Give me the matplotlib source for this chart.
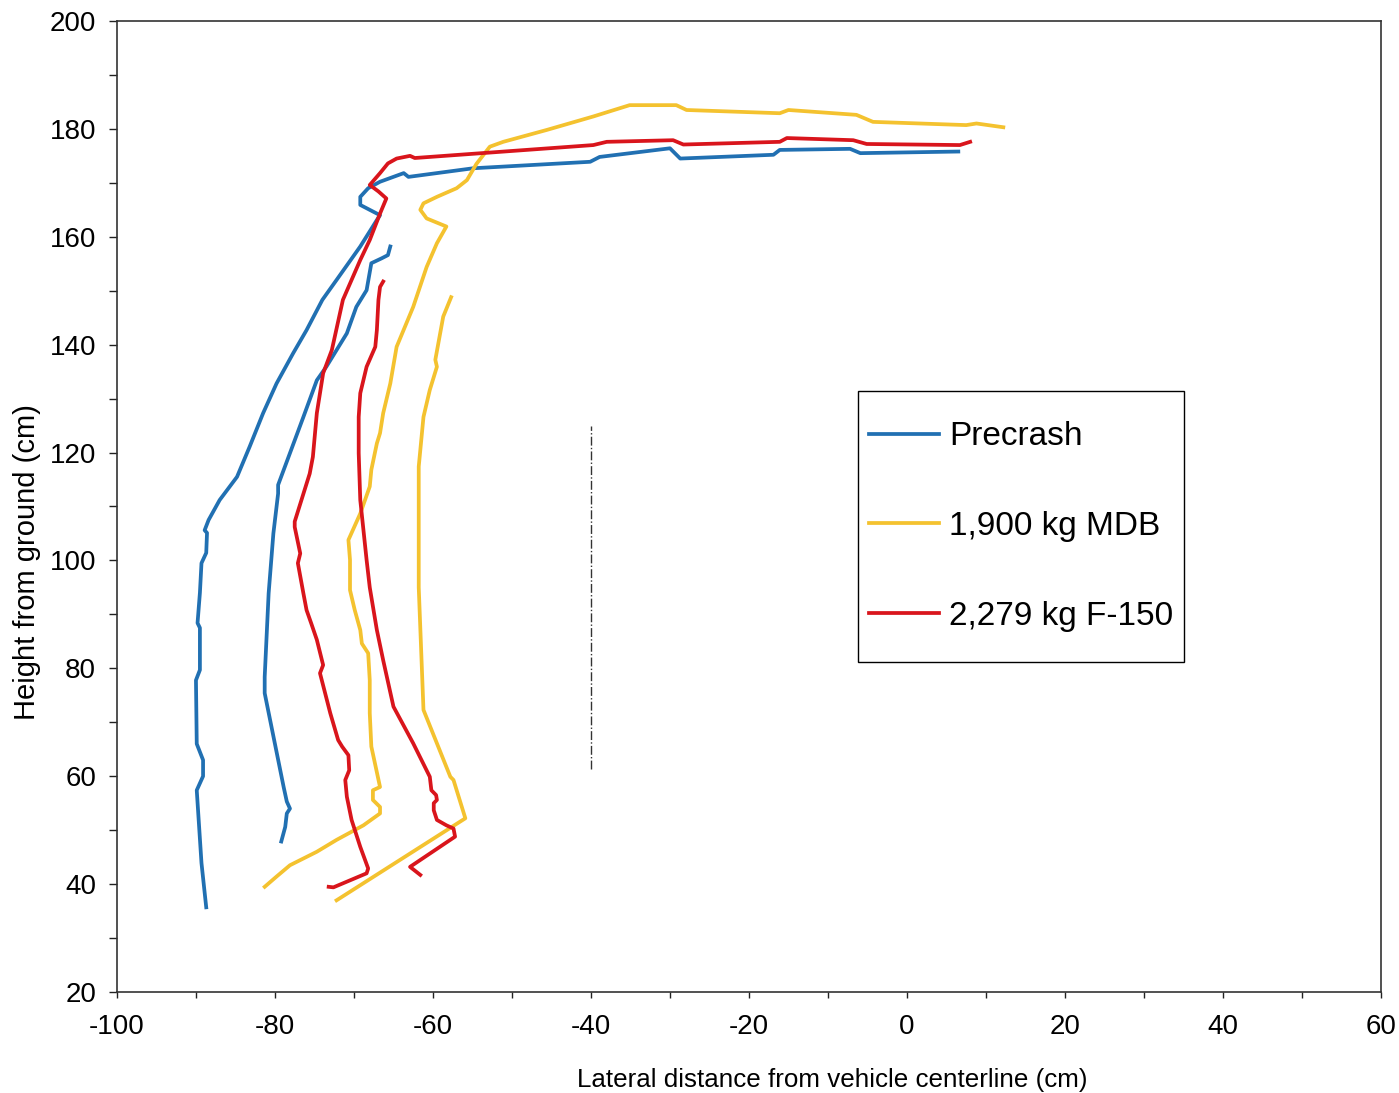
import matplotlib.pyplot as plt
from matplotlib.ticker import MultipleLocator
from matplotlib.patches import Rectangle

plt.rcParams['font.family'] = ['Liberation Sans', 'DejaVu Sans']
plt.rcParams['axes.unicode_minus'] = False

# Precrash profile (two traces)
pre_outer_x = [-88.7, -89.3, -89.9, -89.1, -89.1, -89.9, -90.0, -89.5, -89.5, -89.8, -89.5, -89.3,
               -88.7, -88.6, -88.9, -88.4, -87.0, -84.8, -83.2, -81.5, -79.8, -77.7, -76.0, -74.0,
               -72.2, -69.2, -67.1, -66.7, -69.2, -69.2, -68.2, -66.7, -63.7, -63.1, -54.9, -40.1,
               -38.9, -30.0, -28.7, -16.9, -16.1, -7.2, -5.9, 6.5]
pre_outer_y = [35.7, 43.9, 57.4, 60.0, 63.0, 66.0, 77.8, 79.7, 87.5, 88.4, 94.0, 99.5,
               101.4, 105.1, 105.6, 107.5, 111.2, 115.5, 121.1, 127.3, 132.8, 138.4, 142.7, 148.3,
               152.0, 158.2, 163.1, 164.0, 165.9, 167.4, 169.0, 170.2, 171.8, 171.1, 172.7, 173.9,
               174.8, 176.4, 174.5, 175.2, 176.1, 176.3, 175.5, 175.8]
pre_inner_x = [-79.2, -78.7, -78.5, -78.1, -78.5, -78.9, -81.3, -81.3, -80.8, -80.2, -79.6, -79.6,
               -78.1, -76.4, -74.7, -73.5, -72.2, -70.9, -69.7, -68.4, -67.8, -66.5, -65.7, -65.4]
pre_inner_y = [47.9, 50.6, 53.1, 54.0, 55.3, 58.0, 75.4, 78.4, 93.9, 105.0, 112.4, 114.0,
               119.9, 126.6, 133.4, 135.9, 139.0, 142.1, 147.0, 150.1, 155.1, 156.0, 156.6, 158.2]

# 1,900 kg MDB
mdb_outer_x = [-81.3, -79.8, -78.1, -74.7, -72.2, -68.8, -66.7, -66.7, -67.6, -67.6, -66.7, -67.8,
               -68.0, -68.0, -68.2, -69.0, -69.2, -69.9, -70.5, -70.5, -70.7, -69.2, -68.0, -67.8,
               -67.1, -66.7, -66.3, -65.4, -64.6, -62.5, -60.8, -59.5, -58.3, -60.8, -61.6, -61.2,
               -59.5, -57.0, -55.7, -54.5, -52.8, -51.1, -45.6, -39.7, -35.1, -29.2, -27.9, -16.1,
               -15.0, -6.4, -4.3, 7.5, 8.8, 12.2]
mdb_outer_y = [39.5, 41.4, 43.5, 46.0, 48.2, 50.9, 53.1, 54.3, 55.6, 57.4, 58.0, 65.5,
               71.7, 77.8, 82.8, 84.6, 87.1, 90.8, 94.5, 100.1, 103.8, 108.7, 113.7, 116.8,
               121.7, 123.6, 127.3, 132.8, 139.6, 147.0, 154.4, 158.8, 161.9, 163.4, 165.0, 166.2,
               167.4, 169.0, 170.5, 173.5, 176.7, 177.6, 179.8, 182.3, 184.4, 184.4, 183.5, 182.9,
               183.5, 182.6, 181.3, 180.7, 181.0, 180.3]
mdb_inner_x = [-72.2, -55.9, -57.4, -57.8, -61.2, -61.8, -61.8, -61.2, -60.4, -59.5, -59.7, -58.7, -57.7]
mdb_inner_y = [37.0, 52.2, 59.3, 59.9, 72.3, 95.0, 117.4, 126.6, 131.6, 135.9, 137.2, 145.2, 148.8]

# 2,279 kg F-150
f150_outer_x = [-73.2, -72.6, -68.4, -68.2, -69.2, -70.3, -70.9, -71.1, -70.6, -70.7, -71.5, -72.0,
                -73.0, -74.3, -73.9, -74.7, -75.4, -76.0, -76.4, -77.1, -76.8, -77.5, -77.5, -75.6,
                -75.2, -74.7, -73.9, -72.8, -71.4, -69.2, -68.0, -66.7, -65.9, -66.9, -68.0, -66.7,
                -65.7, -64.6, -62.9, -62.3, -39.7, -38.0, -29.6, -28.3, -16.1, -15.2, -6.8, -5.1,
                6.7, 8.0]
f150_outer_y = [39.5, 39.4, 42.0, 42.9, 46.9, 51.9, 56.2, 59.3, 61.1, 63.9, 65.5, 66.7,
                71.7, 79.1, 80.6, 85.3, 88.3, 90.8, 93.9, 99.5, 101.3, 106.2, 107.2, 116.1,
                119.2, 127.3, 134.7, 139.0, 148.3, 155.7, 159.4, 164.3, 167.1, 168.4, 169.6, 171.8,
                173.6, 174.5, 175.0, 174.6, 177.0, 177.6, 177.9, 177.1, 177.6, 178.3, 177.9, 177.2,
                177.0, 177.6]
f150_inner_x = [-61.6, -62.9, -57.2, -57.4, -58.3, -59.5, -59.9, -59.9, -59.5, -59.6, -60.2, -60.4,
                -62.5, -65.0, -66.3, -67.1, -68.0, -68.4, -69.2, -69.4, -69.4, -69.2, -68.4, -67.3,
                -67.1, -66.9, -66.7, -66.3]
f150_inner_y = [41.7, 43.2, 48.8, 50.3, 50.9, 51.9, 53.7, 55.0, 55.6, 56.5, 57.4, 59.9,
                66.1, 72.9, 81.5, 87.1, 95.0, 100.1, 111.2, 119.9, 126.6, 131.0, 135.9, 139.6,
                142.7, 148.3, 150.7, 151.7]

# vertical reference mark
ref_x = [-40, -40]
ref_y = [61.4, 124.9]

blue = '#2170B2'
yellow = '#F4C22F'
red = '#D9151C'
lw = 2.7

fig = plt.figure(figsize=(13.99, 10.93), dpi=100)
ax = fig.add_axes([0.0836, 0.0924, 0.9035, 0.8884])

ax.plot(pre_outer_x, pre_outer_y, color=blue, lw=lw, label='Precrash')
ax.plot(pre_inner_x, pre_inner_y, color=blue, lw=lw)
ax.plot(mdb_outer_x, mdb_outer_y, color=yellow, lw=lw, label='1,900 kg MDB')
ax.plot(mdb_inner_x, mdb_inner_y, color=yellow, lw=lw)
ax.plot(f150_outer_x, f150_outer_y, color=red, lw=lw, label='2,279 kg F-150')
ax.plot(f150_inner_x, f150_inner_y, color=red, lw=lw)
ax.plot(ref_x, ref_y, color='#333333', lw=1.0, ls='-.')

ax.set_xlim(-100, 60)
ax.set_ylim(20, 200)
ax.xaxis.set_major_locator(MultipleLocator(20))
ax.xaxis.set_minor_locator(MultipleLocator(10))
ax.yaxis.set_major_locator(MultipleLocator(20))
ax.yaxis.set_minor_locator(MultipleLocator(10))
ax.tick_params(which='both', direction='out', width=1, labelsize=20, color='#222222')
ax.tick_params(axis='x', which='both', length=4, pad=12)
ax.tick_params(axis='y', which='both', length=6, pad=9)
for s in ax.spines.values():
    s.set_color('#333333')
    s.set_linewidth(1.2)

ax.set_xlabel('Lateral distance from vehicle centerline (cm)', fontsize=18.7, labelpad=20, x=0.566)
ax.set_ylabel('Height from ground (cm)', fontsize=21, labelpad=6, y=0.443)

# legend box drawn separately so its padding matches
ax.add_patch(Rectangle((0.5862, 0.3399), 0.2579, 0.2791, transform=ax.transAxes,
                       facecolor='white', edgecolor='black', lw=1.0, zorder=4))
leg = ax.legend(loc='center', bbox_to_anchor=(0.7152, 0.4794), fontsize=24, frameon=False,
                handlelength=2.1, handletextpad=0.3, labelspacing=1.76, borderpad=0)
leg.set_zorder(5)

plt.savefig('out.png')
